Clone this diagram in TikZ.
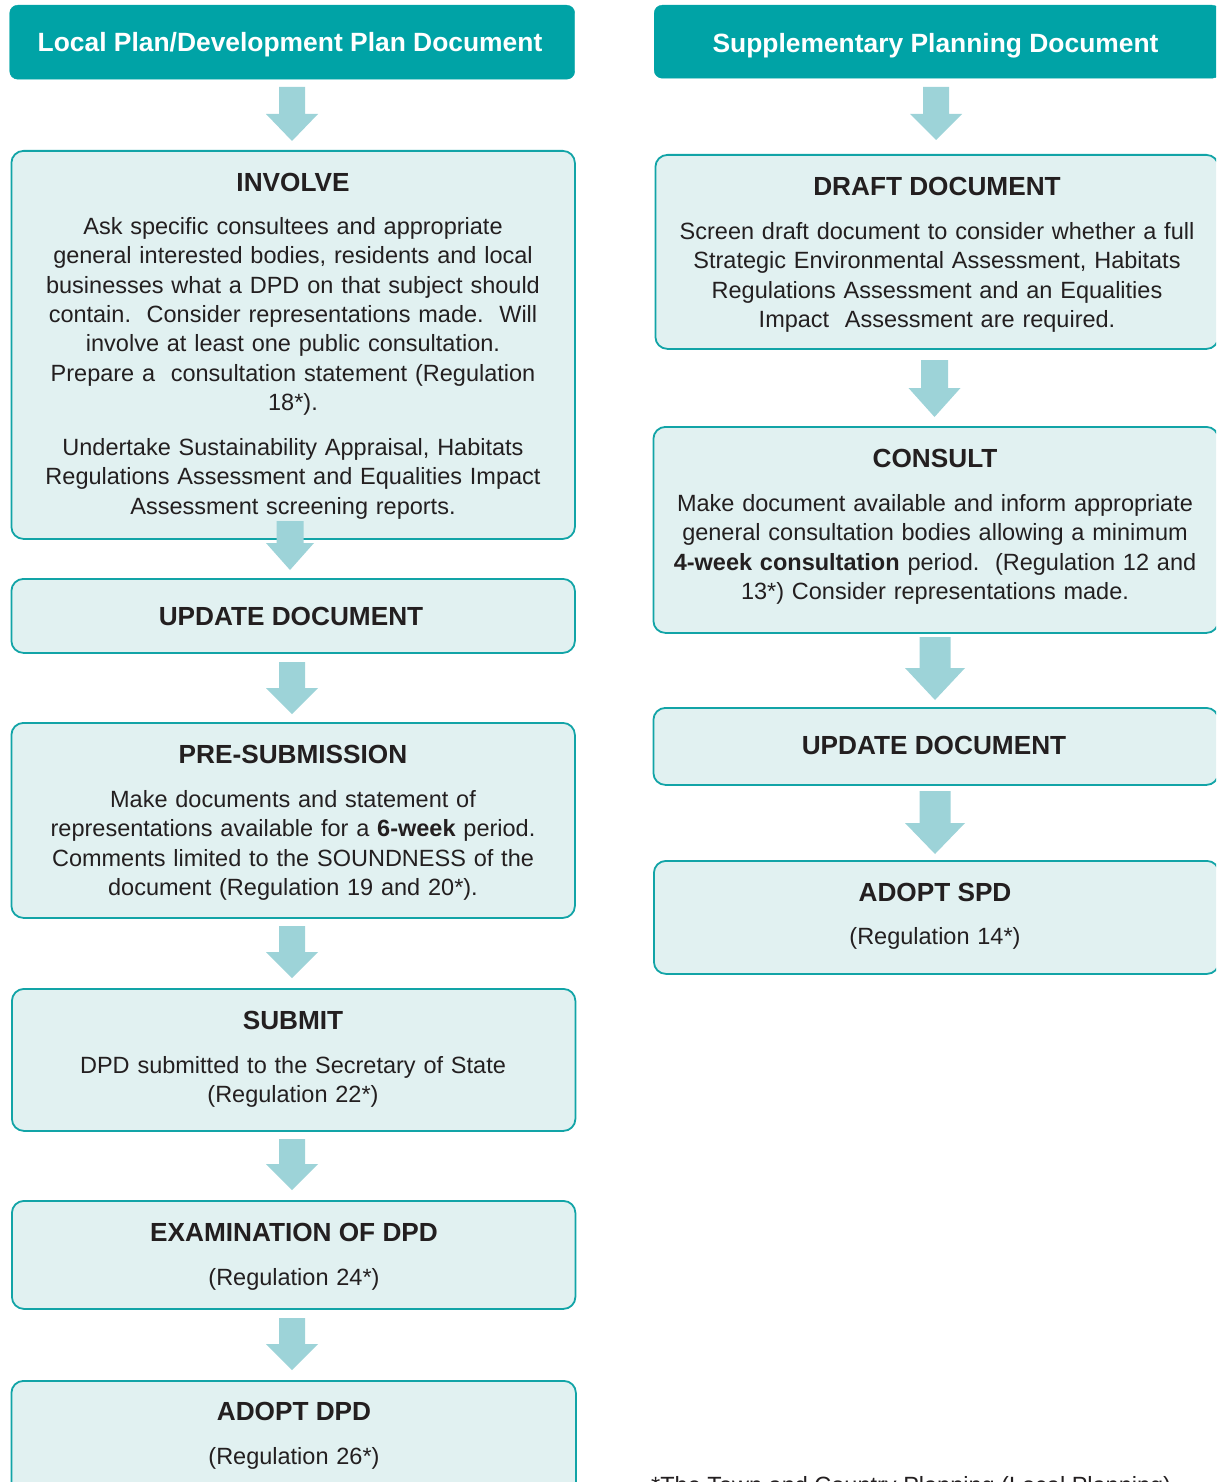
\documentclass[tikz,border=0pt]{standalone}
\usepackage{fontspec}
\setmainfont{Liberation Sans}
\frenchspacing
\definecolor{hdrteal}{HTML}{00A3A6}
\definecolor{boxline}{HTML}{12A4A7}
\definecolor{boxfill}{HTML}{E1F1F1}
\definecolor{arrowfill}{HTML}{9DD3D8}
\definecolor{inkc}{HTML}{231F20}
\tikzset{
  hdrbox/.style={fill=hdrteal, draw=hdrteal, rounded corners=8pt, anchor=north west, inner sep=0pt},
  stagebox/.style={fill=boxfill, draw=boxline, line width=1.8pt, rounded corners=12pt, anchor=north west, inner sep=0pt},
  hdrtext/.style={font=\fontsize{26.4}{32}\selectfont\bfseries, text=white, anchor=base, inner sep=0pt},
  stagetitle/.style={font=\fontsize{26.2}{32}\selectfont\bfseries, text=inkc, anchor=base, inner sep=0pt},
  stagetext/.style={font=\fontsize{23.5}{29.33}\selectfont, text=inkc, anchor=base, inner sep=0pt, text width=600pt, align=center},
}
% block arrow: centre x, top, start of head, tip, half shaft width, half head width
\newcommand\flowarrow[6]{%
  \fill[arrowfill] (#1-#5,#2) -- (#1+#5,#2) -- (#1+#5,#3) -- (#1+#6,#3) -- (#1,#4)
    -- (#1-#6,#3) -- (#1-#5,#3) -- cycle;}
\begin{document}
\begin{tikzpicture}[x=1pt, y={(0pt,-1pt)}]
\useasboundingbox (0,0) rectangle (1216,1482);
\clip (0,0) rectangle (1216,1482);

% ---- left column: Local Plan / DPD ----
\node[hdrbox, minimum width=565pt, minimum height=74pt] (hdrL) at (9.5,5) {};
\node[stagebox, minimum width=563.5pt, minimum height=388pt] (involve) at (10.5,150) {};
\node[stagebox, minimum width=563.5pt, minimum height=74pt] (updL) at (10.5,578) {};
\node[stagebox, minimum width=563.5pt, minimum height=195pt] (presub) at (10.5,722) {};
\node[stagebox, minimum width=563.5pt, minimum height=142pt] (submit) at (11,988) {};
\node[stagebox, minimum width=563.5pt, minimum height=108pt] (exam) at (11,1200) {};
\node[stagebox, minimum width=564.5pt, minimum height=130pt] (adoptdpd) at (10.5,1380) {};

% ---- right column: SPD ----
\node[hdrbox, minimum width=566pt, minimum height=73pt] (hdrR) at (654,5) {};
\node[stagebox, minimum width=563pt, minimum height=194pt] (draft) at (654.5,154) {};
\node[stagebox, minimum width=565pt, minimum height=206pt] (consult) at (652.5,426) {};
\node[stagebox, minimum width=565pt, minimum height=77pt] (updR) at (652.5,707) {};
\node[stagebox, minimum width=565pt, minimum height=113pt] (adoptspd) at (653,860) {};

% ---- arrows ----
\flowarrow{292}{87}{114}{141}{13}{26}
\flowarrow{290}{521}{543}{570}{13.5}{24}
\flowarrow{292}{662}{688}{714}{13}{26}
\flowarrow{292}{926}{952}{978}{13}{26}
\flowarrow{292}{1139}{1164}{1190}{13}{26}
\flowarrow{292}{1318}{1344}{1370}{13}{26}
\flowarrow{936}{87}{114}{140}{13}{26}
\flowarrow{934.5}{360}{388}{417}{13.5}{26}
\flowarrow{935}{637}{668}{700}{15.5}{30}
\flowarrow{935}{791}{823}{854}{15.5}{30}

% ---- texts, left ----
\node[hdrtext] (hdrLt) at (290,51.5) {Local Plan/Development Plan Document};
\node[stagetitle] (involveT) at (293,191.3) {INVOLVE};
\node[stagetext] (involveB) at (293,234.5) {Ask specific consultees and appropriate\\
general interested bodies, residents and local\\
businesses what a DPD on that subject should\\
contain.~ Consider representations made.~ Will\\
involve at least one public consultation.\\
Prepare a~ consultation statement (Regulation\\
18*).\\[15.7pt]
Undertake Sustainability Appraisal, Habitats\\
Regulations Assessment and Equalities Impact\\
Assessment screening reports.};
\node[stagetitle] (updLT) at (291,625.3) {UPDATE DOCUMENT};
\node[stagetitle] (presubT) at (293,763.3) {PRE-SUBMISSION};
\node[stagetext] (presubB) at (293,807.5) {Make documents and statement of\\
representations available for a \textbf{6-week} period.\\
Comments limited to the SOUNDNESS of the\\
document (Regulation 19 and 20*).};
\node[stagetitle] (submitT) at (293,1029.3) {SUBMIT};
\node[stagetext] (submitB) at (293,1073.5) {DPD submitted to the Secretary of State\\
(Regulation 22*)};
\node[stagetitle] (examT) at (294,1241.3) {EXAMINATION OF DPD};
\node[stagetext] (examB) at (294,1285.5) {(Regulation 24*)};
\node[stagetitle] (adoptdpdT) at (294,1420.3) {ADOPT DPD};
\node[stagetext] (adoptdpdB) at (294,1464.5) {(Regulation 26*)};

% ---- texts, right ----
\node[hdrtext] (hdrRt) at (935.5,52.5) {Supplementary Planning Document};
\node[stagetitle] (draftT) at (937,195.3) {DRAFT DOCUMENT};
\node[stagetext] (draftB) at (937,239.5) {Screen draft document to consider whether a full\\
Strategic Environmental Assessment, Habitats\\
Regulations Assessment and an Equalities\\
Impact~ Assessment are required.};
\node[stagetitle] (consultT) at (935,467.3) {CONSULT};
\node[stagetext] (consultB) at (935,511.5) {Make document available and inform appropriate\\
general consultation bodies allowing a minimum\\
\textbf{4-week consultation} period.~ (Regulation 12 and\\
13*) Consider representations made.};
\node[stagetitle] (updRT) at (934,754.3) {UPDATE DOCUMENT};
\node[stagetitle] (adoptspdT) at (935,901.3) {ADOPT SPD};
\node[stagetext] (adoptspdB) at (935,944.5) {(Regulation 14*)};

% ---- footnote ----
\node[font=\fontsize{23.5}{29.33}\selectfont, text=inkc, anchor=base west, inner sep=0pt] (foot) at (651,1493)
  {*The Town and Country Planning (Local Planning)};
\end{tikzpicture}
\end{document}
